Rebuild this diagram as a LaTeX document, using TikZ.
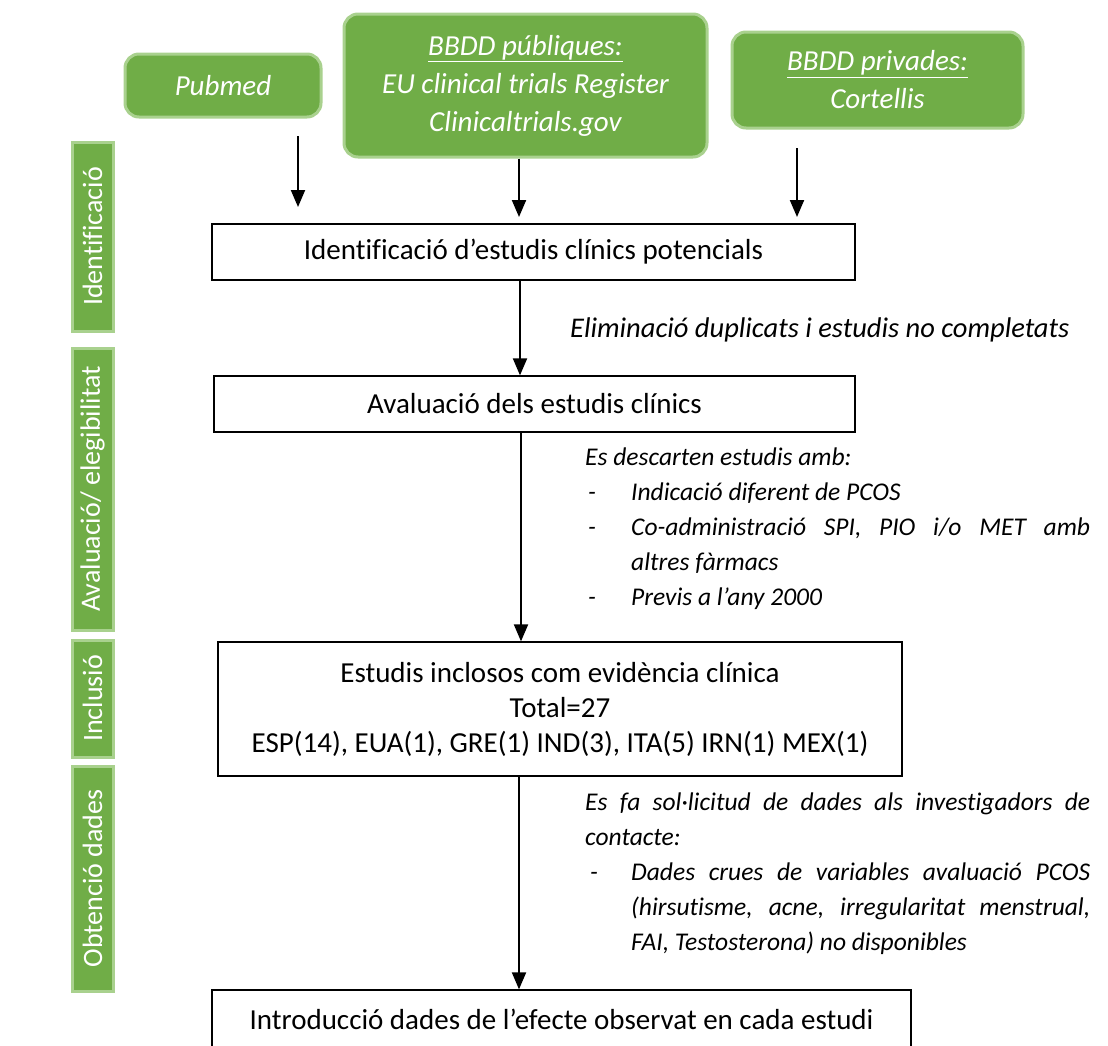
\documentclass[tikz,border=0pt]{standalone}
\usepackage{fontspec}
\setmainfont{Carlito}[Ligatures=NoCommon]
\usetikzlibrary{arrows.meta}
\definecolor{gr}{HTML}{70AD47}
\definecolor{grl}{HTML}{A9D18E}
\begin{document}
\begin{tikzpicture}[x=1pt,y=-1pt,
  greenbox/.style={rounded corners=14pt, fill=gr, draw=grl, line width=3pt, text=white, font=\itshape\fontsize{29}{38}\selectfont, align=center, inner sep=0pt},
  sidebar/.style={fill=gr, draw=grl, line width=3pt, text=white, font=\fontsize{28}{34}\selectfont, inner sep=0pt, rotate=90},
  flowbox/.style={draw=black, line width=1.3pt, font=\fontsize{29}{35}\selectfont, align=center, inner sep=0pt},
  arr/.style={-{Triangle[width=14pt,length=17pt]}, line width=2pt},
  note/.style={font=\itshape\fontsize{25.5}{35}\selectfont, inner sep=0pt, anchor=base west}
]
\path[use as bounding box] (0,0) rectangle (1108,1045);

% source boxes
\node[greenbox, minimum width=196, minimum height=63] (pub) at (223,85.5) {Pubmed};
\node[greenbox, minimum width=363, minimum height=143] (pubq) at (525.5,85.5) {\underline{BBDD públiques:}\\EU clinical trials Register\\Clinicaltrials.gov};
\node[greenbox, minimum width=291, minimum height=96] (priv) at (877.5,80) {\underline{BBDD privades:}\\Cortellis};

% side bars
\node[sidebar, minimum width=189, minimum height=41] (s1) at (92.5,236.5) {Identificació};
\node[sidebar, minimum width=282, minimum height=41] (s2) at (92.5,489) {Avaluació/ elegibilitat};
\node[sidebar, minimum width=117, minimum height=41] (s3) at (92.5,698.5) {Inclusió};
\node[sidebar, minimum width=225, minimum height=41] (s4) at (92.5,878.5) {Obtenció dades};

% flow boxes
\node[flowbox, minimum width=643, minimum height=56] (b1) at (533.5,252) {Identificació d’estudis clínics potencials};
\node[flowbox, minimum width=641, minimum height=56] (b2) at (534.5,404) {Avaluació dels estudis clínics};
\node[flowbox, minimum width=684, minimum height=134] (b3) at (560,709) {Estudis inclosos com evidència clínica\\Total=27\\ESP(14), EUA(1), GRE(1) IND(3), ITA(5) IRN(1) MEX(1)};
\node[flowbox, minimum width=699, minimum height=58] (b4) at (561.5,1019) {Introducció dades de l’efecte observat en cada estudi};

% arrows from sources
\coordinate (p1) at (298,136);
\coordinate (p2) at (298,207);
\draw[arr] (p1) -- (p2);
\coordinate (q2) at (519,217);
\draw[arr] (pubq.south -| q2) -- (q2);
\coordinate (r1) at (797,148);
\coordinate (r2) at (797,217);
\draw[arr] (r1) -- (r2);

% main arrows
\coordinate (ax1) at (520,0);
\coordinate (ax2) at (521,0);
\coordinate (ax3) at (519,0);
\draw[arr] (b1.south -| ax1) -- (b2.north -| ax1);
\draw[arr] (b2.south -| ax2) -- (b3.north -| ax2);
\draw[arr] (b3.south -| ax3) -- (b4.north -| ax3);

% notes
\node[note, font=\itshape\fontsize{28.5}{35}\selectfont] (n1) at (570,337) {Eliminació duplicats i estudis no completats};
\node[note, text width=505pt, align=justify] (n2) at (585,465) {\setlength\parindent{0pt}%
Es descarten estudis amb:\par
\noindent\hangindent=46pt\hangafter=1\makebox[46pt][l]{\hspace{3pt}-}Indicació diferent de PCOS\par
\noindent\hangindent=46pt\hangafter=1\makebox[46pt][l]{\hspace{3pt}-}Co-administració SPI, PIO i/o MET amb\linebreak altres fàrmacs\par
\noindent\hangindent=46pt\hangafter=1\makebox[46pt][l]{\hspace{3pt}-}Previs a l’any 2000\par};
\node[note, text width=505pt, align=justify] (n3) at (585,810) {\setlength\parindent{0pt}%
Es fa sol·licitud de dades als investigadors de\linebreak contacte:\par
\noindent\hangindent=46pt\hangafter=1\makebox[46pt][l]{\hspace{5pt}-}Dades crues de variables avaluació PCOS\linebreak (hirsutisme, acne, irregularitat menstrual,\linebreak FAI, Testosterona) no disponibles\par};
\end{tikzpicture}
\end{document}
